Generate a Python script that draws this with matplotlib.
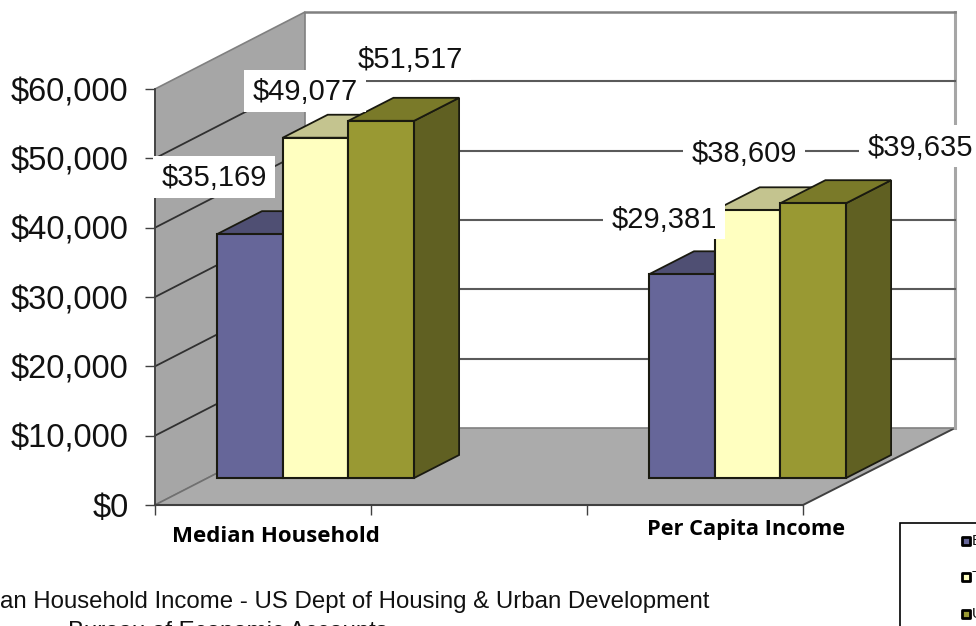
import matplotlib
matplotlib.use("Agg")
import matplotlib.pyplot as plt
from matplotlib.patches import Polygon, Rectangle

categories = ["Median Household", "Per Capita Income"]
series_names = ["Blount County", "Tennessee", "United States"]
county = [35169, 29381]
state = [49077, 38609]
usa = [51517, 39635]
y_ticks = [0, 10000, 20000, 30000, 40000, 50000, 60000]

face_cols = ["#666699", "#FFFFC0", "#999933"]
top_cols = ["#4F4F73", "#C4C48F", "#7A7A29"]
side_cols = ["#4F4F73", "#C4C48F", "#606022"]
series = [county, state, usa]

plt.rcParams["font.family"] = ["Liberation Sans", "DejaVu Sans"]

# one value is this many pixels high
PX = 416 / 60000
def val(py):
    return (505 - py) / PX

fig = plt.figure(figsize=(9.76, 6.26), dpi=100)
ax = fig.add_axes([0, 0, 1, 1])
ax.set_xlim(0, 976)
ax.set_ylim(val(626), val(0))
ax.patch.set_visible(False)

# wall + floor
depth_x, depth_y = 150, 77 / PX
x0, x1 = 155, 803
top = 60000
ax.add_patch(Polygon([(x0, 0), (x0 + depth_x, depth_y), (x0 + depth_x, top + depth_y), (x0, top)],
                     fc="#A6A6A6", ec="#808080", lw=1.2, zorder=1))
ax.add_patch(Polygon([(x0, 0), (x1, 0), (x1 + depth_x + 2, depth_y), (x0 + depth_x, depth_y)],
                     fc="#ABABAB", ec="none", zorder=1))
ax.plot([x1, x1 + depth_x + 2], [0, depth_y], color="#404040", lw=1.4, zorder=1.5)
ax.plot([x0, x0 + depth_x], [0, depth_y], color="#707070", lw=1.2, zorder=1.5)
ax.plot([x0 + depth_x, x1 + depth_x + 2], [depth_y, depth_y], color="#808080", lw=1.2, zorder=1.5)
ax.plot([x1 + depth_x + 2] * 2, [depth_y, top + depth_y], color="#A6A6A6", lw=2.2, zorder=1.5)
ax.plot([x0 + depth_x, x1 + depth_x + 2], [top + depth_y] * 2, color="#808080", lw=1.8, zorder=1.5)
for v in y_ticks[1:-1]:
    ax.plot([x0, x0 + depth_x], [v, v + depth_y], color="#303030", lw=1.3, zorder=1.5)
    ax.plot([x0 + depth_x, x1 + depth_x + 2], [v + depth_y] * 2, color="#5A5A5A", lw=1.5, zorder=1.5)

# bars
group_x = [217, 649]
bar_w = 65.7
bar_dx, bar_dy = 45, 23 / PX
base = 27 / PX
for s, vals in enumerate(series):
    for g, v in enumerate(vals):
        left = group_x[g] + s * bar_w
        right = left + bar_w
        y1 = base + v
        ax.add_patch(Polygon([(right, base), (right + bar_dx, base + bar_dy), (right + bar_dx, y1 + bar_dy), (right, y1)],
                             fc=side_cols[s], ec="#1A1A10", lw=1.3, zorder=3 + s))
        ax.add_patch(Polygon([(left, y1), (right, y1), (right + bar_dx, y1 + bar_dy), (left + bar_dx, y1 + bar_dy)],
                             fc=top_cols[s], ec="#1A1A10", lw=1.3, zorder=3 + s))
        ax.add_patch(Rectangle((left, base), bar_w, v, fc=face_cols[s], ec="#1A1A10", lw=1.5, zorder=3 + s))

# value labels with their white boxes
label_pos = [[(214, 177), (664, 218)], [(305, 91), (744, 153)], [(410, 59), (920, 146)]]
for s, vals in enumerate(series):
    for g, v in enumerate(vals):
        px, py = label_pos[s][g]
        ax.add_patch(Rectangle((px - 61, val(py + 21)), 122, 42 / PX, fc="white", ec="none", zorder=8))
        ax.text(px, val(py + 1.5), f"${v:,}", fontsize=21, ha="center", va="center", color="#111111", zorder=9)

# axes
for name in ["top", "right"]:
    ax.spines[name].set_visible(False)
ax.spines["left"].set_position(("data", x0))
ax.spines["left"].set_bounds(0, 60000)
ax.spines["bottom"].set_position(("data", 0))
ax.spines["bottom"].set_bounds(x0, x1)
ax.spines["left"].set_color("#404040")
ax.spines["bottom"].set_color("#404040")
ax.spines["left"].set_linewidth(1.3)
ax.spines["bottom"].set_linewidth(1.5)
ax.set_yticks(y_ticks)
ax.set_yticklabels([f"${v:,}" for v in y_ticks], fontsize=23.5, color="#111111")
ax.set_xticks([155, 371, 587, 803])
ax.set_xticklabels([])
ax.tick_params(axis="y", length=7, width=1, color="#404040", pad=12)
ax.tick_params(axis="x", length=7, width=1, color="#404040")

ax.text(276, val(536), categories[0], fontsize=16, fontweight="bold", family=["Open Sans", "DejaVu Sans"],
        ha="center", va="center", color="black")
ax.text(746, val(529), categories[1], fontsize=15.7, fontweight="bold", family=["Open Sans", "DejaVu Sans"],
        ha="center", va="center", color="black")

# source notes, cut off by the picture edge as in the original
ax.text(0, val(602), "an Household Income - US Dept of Housing & Urban Development", fontsize=17.3,
        ha="left", va="center", color="#111111")
ax.text(68, val(632), "Bureau of Economic Accounts", fontsize=17.3, ha="left", va="center", color="#111111",
        clip_on=True)

# legend box, mostly outside the picture
ax.add_patch(Rectangle((900, val(660)), 120, 137 / PX, fc="white", ec="black", lw=1.2, zorder=5, clip_on=True))
legend_y = [541, 577, 614]
for s, name in enumerate(series_names):
    ax.scatter([965.5], [val(legend_y[s])], marker="s", s=30, fc=face_cols[s], ec="black", lw=2, zorder=6)
    ax.text(971.5, val(legend_y[s]), name, fontsize=11, ha="left", va="center", color="#111111", zorder=6, clip_on=True)

fig.savefig("out.png", dpi=100)
